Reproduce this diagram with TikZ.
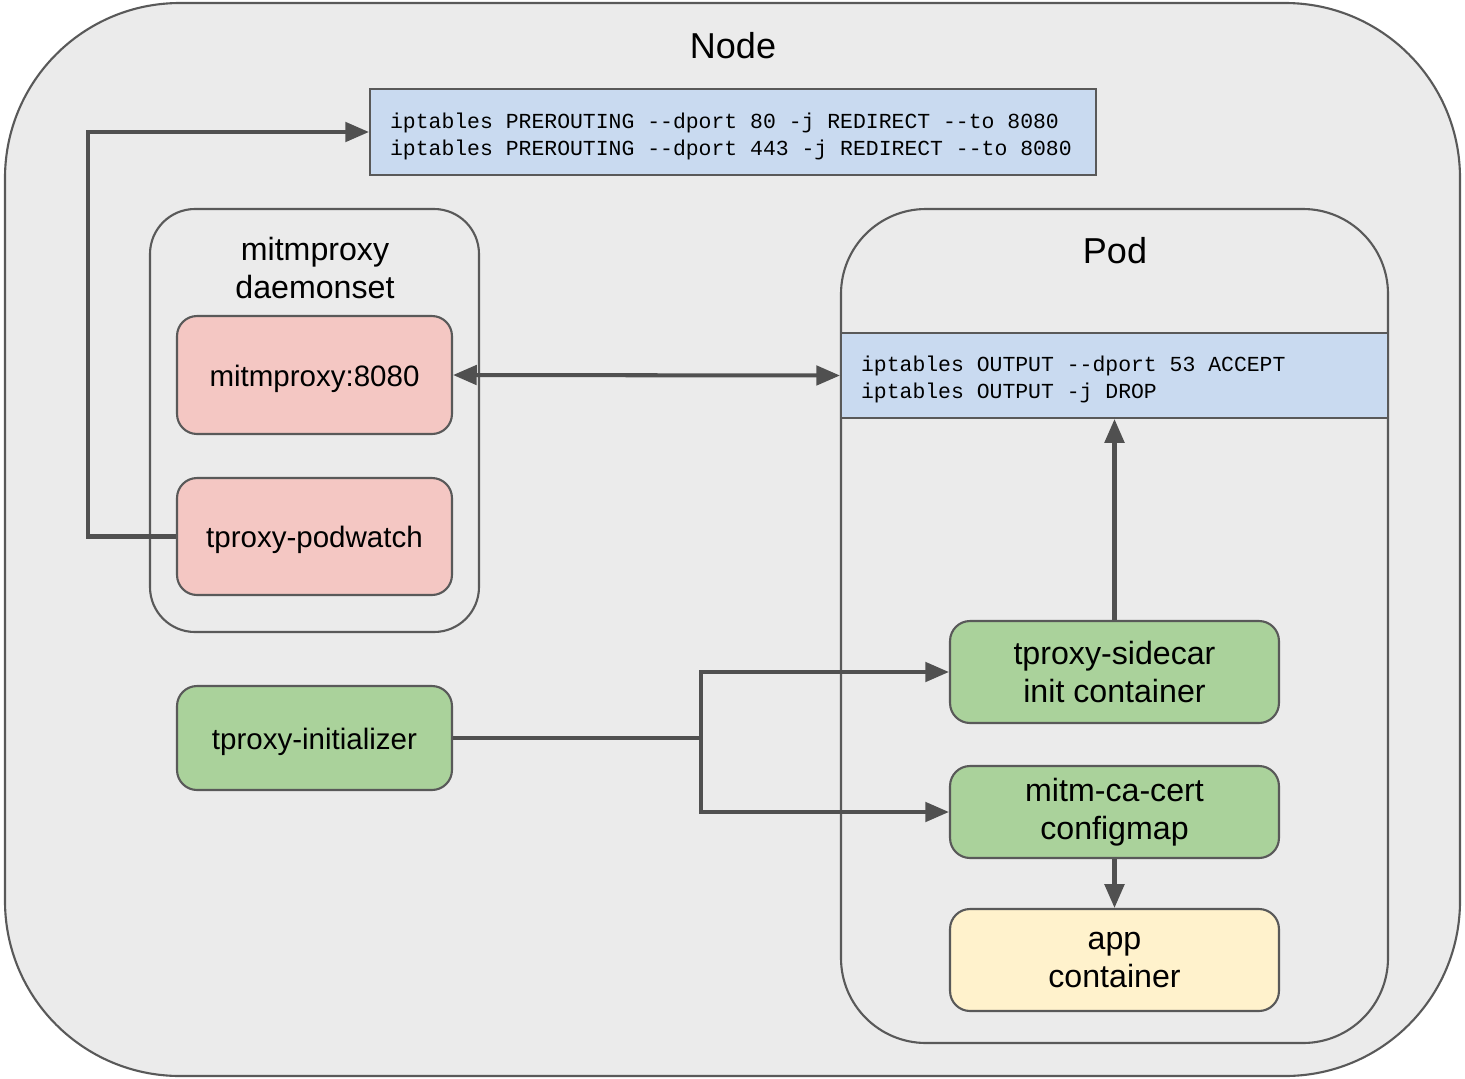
\documentclass[tikz,border=0pt]{standalone}
\usepackage{fontspec}
\setmainfont{Liberation Sans}
\newfontfamily\monofont{Liberation Mono}
\usetikzlibrary{arrows.meta}
\definecolor{bgray}{RGB}{235,235,235}
\definecolor{edgec}{RGB}{89,89,89}
\definecolor{connc}{RGB}{80,80,80}
\definecolor{iptblue}{RGB}{201,218,240}
\definecolor{pinkc}{RGB}{244,199,195}
\definecolor{greenc}{RGB}{170,210,155}
\definecolor{yellowc}{RGB}{255,242,204}
\newcommand{\msp}{\hspace*{7.32pt}}
\tikzset{
  groupbox/.style={draw=edgec, line width=1.2pt, fill=bgray},
  compbox/.style={draw=edgec, line width=1.2pt, rounded corners=0.4cm, align=center,
    inner sep=0pt, font=\fontsize{16.8}{21}\selectfont},
  onel/.style={text depth=0pt, text height=13pt},
  twoline/.style={font=\fontsize{18.3}{21.5}\selectfont},
  iptbox/.style={draw=edgec, line width=1.2pt, fill=iptblue, align=left, inner ysep=0pt,
    inner xsep=0.4cm, font=\monofont\fontsize{12.2}{15.3}\selectfont},
  titletext/.style={font=\fontsize{20.5}{24}\selectfont, inner sep=0pt},
  conn/.style={draw=connc, line width=2.3pt},
  tip/.style={-{Triangle[length=13.5pt,width=11pt]}},
}
\begin{document}
\begin{tikzpicture}[x=0.02cm,y=-0.02cm]
\useasboundingbox (0,0) rectangle (1465,1079);
% outer Node box
\draw[groupbox, rounded corners=3.5cm] (5,3) rectangle (1460,1076);
\node[titletext, anchor=base] (nodetitle) at (733,58) {Node};
% iptables prerouting
\node[iptbox, minimum height=1.72cm, text width=13.72cm] (ipt) at (733,132)
  {\rule{0pt}{13.5pt}iptables\msp PREROUTING\msp --dport\msp 80\msp -j\msp REDIRECT\msp --to\msp 8080\\iptables\msp PREROUTING\msp --dport\msp 443\msp -j\msp REDIRECT\msp --to\msp 8080};
% daemonset group
\draw[groupbox, rounded corners=0.9cm] (150,209) rectangle (479,632);
\node[compbox, twoline, draw=none] (dstitle) at (315,268) {mitmproxy\\daemonset};
\node[compbox, onel, fill=pinkc, minimum width=5.5cm, minimum height=2.36cm] (mitm) at (314.5,375) {mitmproxy:8080};
\node[compbox, onel, fill=pinkc, minimum width=5.5cm, minimum height=2.34cm] (pw) at (314.5,536.5) {tproxy-podwatch};
\node[compbox, onel, fill=greenc, minimum width=5.5cm, minimum height=2.08cm] (init) at (314.5,738) {tproxy-initializer};
% pod group
\draw[groupbox, rounded corners=1.7cm] (841,209) rectangle (1388,1043);
\node[titletext] (podtitle) at (1115,251) {Pod};
\node[iptbox, minimum height=1.7cm, text width=10.14cm] (band) at (1114.5,375.5)
  {\rule{0pt}{13.5pt}iptables\msp OUTPUT\msp --dport\msp 53\msp ACCEPT\\iptables\msp OUTPUT\msp -j\msp DROP};
\node[compbox, twoline, fill=greenc, minimum width=6.58cm, minimum height=2.04cm] (sidecar) at (1114.5,672) {tproxy-sidecar\\init container};
\node[compbox, twoline, fill=greenc, minimum width=6.58cm, minimum height=1.84cm] (cacert) at (1114.5,812) {mitm-ca-cert\\configmap};
\node[compbox, twoline, fill=yellowc, minimum width=6.58cm, minimum height=2.04cm] (app) at (1114.5,960) {app\\container};
% connectors
\coordinate (pwturn) at (88,536.5);
\draw[conn, tip] (pw.west) -- (pwturn) |- (ipt.west);
\draw[conn, {Triangle[length=13.5pt,width=11pt]}-{Triangle[length=13.5pt,width=11pt]}] (mitm.east) -- (band.west);
\draw[conn, tip] (sidecar.north) -- (band.south);
\coordinate (split) at (701,738);
\draw[conn] (init.east) -- (split);
\draw[conn, tip] (split) |- (sidecar.west);
\draw[conn, tip] (split) |- (cacert.west);
\draw[conn, tip] (cacert.south) -- (app.north);
\end{tikzpicture}
\end{document}
